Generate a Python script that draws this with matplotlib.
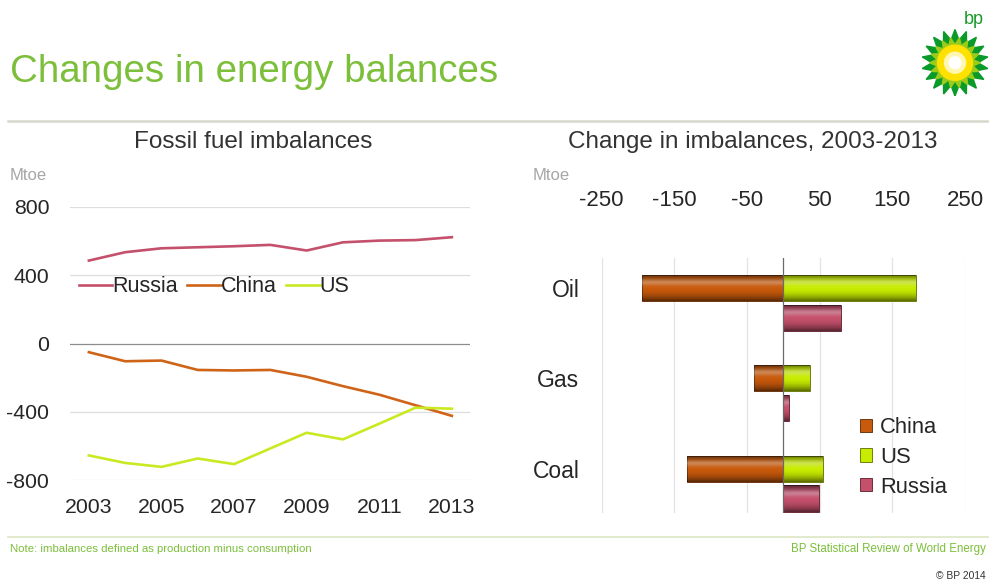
import numpy as np
import matplotlib.pyplot as plt
from matplotlib.patches import Polygon, Circle
from matplotlib.lines import Line2D

plt.rcParams['font.family'] = ['Liberation Sans', 'DejaVu Sans']

# Fossil fuel imbalances (production minus consumption), Mtoe
years = np.arange(2003, 2014)
russia = [486, 535, 558, 564, 570, 578, 545, 593, 603, 606, 623]
china = [-51, -104, -100, -155, -158, -155, -195, -250, -300, -362, -424]
us = [-656, -700, -723, -674, -707, -615, -523, -562, -470, -376, -382]

# Change in imbalances 2003-2013, Mtoe
fuels = ['Oil', 'Gas', 'Coal']
chg_china = [-195, -40, -133]
chg_us = [183, 37, 54]
chg_russia = [79, 8, 49]

c_russia = '#c4506c'
c_china = '#cf6418'
c_us = '#cbe922'
bar_china = '#c85a0c'
bar_us = '#c8ec00'
bar_russia = '#c4506c'
green = '#7cbf3a'
grey_txt = '#a6a6a6'
dark_txt = '#262626'

W, H = 989, 585
fig = plt.figure(figsize=(W / 100, H / 100), dpi=100)


def fx(x):
    return x / W


def fy(y):
    return 1 - y / H


def box(x0, y0, x1, y1):
    return [fx(x0), fy(y1), fx(x1) - fx(x0), fy(y0) - fy(y1)]


# header / footer
fig.text(fx(10), fy(72), 'Changes in energy balances', color=green, fontsize=27.7,
         va='center', ha='left')
fig.add_artist(Line2D([fx(8), fx(989)], [fy(121), fy(121)], color='#d5d9cc', lw=1.8))
fig.add_artist(Line2D([fx(8), fx(989)], [fy(537), fy(537)], color='#dbe6c4', lw=1.2))
fig.text(fx(10), fy(549), 'Note: imbalances defined as production minus consumption',
         color=green, fontsize=8.2, va='center')
fig.text(fx(986), fy(549), 'BP Statistical Review of World Energy', color=green, fontsize=8.3,
         va='center', ha='right')
fig.text(fx(986), fy(576), '\u00a9 BP 2014', color='#333333', fontsize=7.4, va='center', ha='right')

# bp helios mark
lax = fig.add_axes(box(920, 12, 990, 96))
lax.set_xlim(-1, 1)
lax.set_ylim(-1.2, 1.2)
lax.set_aspect('equal')
lax.axis('off')
n = 18
ang = np.linspace(0, 2 * np.pi, 2 * n, endpoint=False) + np.pi / 2
rad = np.where(np.arange(2 * n) % 2 == 0, 0.95, 0.66)
lax.add_patch(Polygon(np.c_[rad * np.cos(ang), rad * np.sin(ang) - 0.25], color='#0a9a2a'))
rad2 = np.where(np.arange(2 * n) % 2 == 0, 0.72, 0.52)
lax.add_patch(Polygon(np.c_[rad2 * np.cos(ang + np.pi / n), rad2 * np.sin(ang + np.pi / n) - 0.25],
                      color='#9ccc1a'))
lax.add_patch(Circle((0, -0.25), 0.5, color='#ffe100'))
lax.add_patch(Circle((0, -0.25), 0.3, color='#fff6b0'))
lax.add_patch(Circle((0, -0.25), 0.17, color='white'))
fig.text(fx(974), fy(19), 'bp', color='#1a9a2a', fontsize=13, ha='center', va='center')

# left panel: line chart
ax1 = fig.add_axes(box(70, 207, 470, 480))
ax1.plot(years, russia, color=c_russia, lw=1.9, label='Russia')
ax1.plot(years, china, color=c_china, lw=1.9, label='China')
ax1.plot(years, us, color=c_us, lw=1.9, label='US')
ax1.set_xlim(2002.48, 2013.5)
ax1.set_ylim(-800, 800)
ax1.set_yticks([-800, -400, 0, 400, 800])
ax1.set_yticklabels(['-800', '-400', '0', '400', '800'])
ax1.set_xticks([2003, 2005, 2007, 2009, 2011, 2013])
for v in [-800, -400, 400, 800]:
    ax1.axhline(v, color='#dedede', lw=0.9, zorder=0)
ax1.axhline(0, color='#8c8c8c', lw=0.9, zorder=0)
for s in ax1.spines.values():
    s.set_visible(False)
ax1.tick_params(length=0, labelsize=15.3, colors=dark_txt)
ax1.tick_params(axis='y', pad=15)
ax1.tick_params(axis='x', pad=13)
ax1.legend(loc='center left', bbox_to_anchor=(0.0, 0.707), ncol=3, frameon=False,
           fontsize=15.5, handlelength=1.55, handletextpad=0.0, columnspacing=0.45,
           borderaxespad=0, labelcolor=dark_txt)
fig.text(fx(253), fy(142), 'Fossil fuel imbalances', fontsize=17.5, ha='center', va='center',
         color='#333333')
fig.text(fx(10), fy(175), 'Mtoe', fontsize=12, color=grey_txt, va='center')

# right panel: horizontal bars
ax2 = fig.add_axes(box(601.7, 258, 965, 513))
pos = np.arange(len(fuels))
bh = 0.29
bars = []
bars += list(ax2.barh(pos, chg_china, height=bh, color=bar_china, edgecolor='#5a2500',
                      lw=0.6, label='China'))
bars += list(ax2.barh(pos, chg_us, height=bh, color=bar_us, edgecolor='#5e6b00',
                      lw=0.6, label='US'))
bars += list(ax2.barh(pos + 0.33, chg_russia, height=bh, color=bar_russia, edgecolor='#5a1a28',
                      lw=0.6, label='Russia'))

# cylinder-like shading on each bar
shade = np.abs(np.linspace(-1, 1, 64)) ** 2
shade_img = np.zeros((64, 1, 4))
shade_img[:, 0, 3] = 0.55 * shade
hl = np.zeros((64, 1, 4))
hl[:, 0, :3] = 1
hl[:, 0, 3] = 0.3 * np.exp(-((np.linspace(0, 1, 64) - 0.3) / 0.12) ** 2)
for b in bars:
    x0, y0 = b.get_x(), b.get_y()
    w, h = b.get_width(), b.get_height()
    for img in (shade_img, hl):
        im = ax2.imshow(img, extent=[x0, x0 + w, y0 + h, y0], aspect='auto',
                        interpolation='bilinear', zorder=3)
        im.set_clip_path(b)

ax2.set_xlim(-250, 250)
ax2.set_ylim(2.49, -0.33)
ticks = [-250, -150, -50, 50, 150, 250]
ax2.set_xticks(ticks)
ax2.set_xticklabels([str(t) for t in ticks])
for v in ticks:
    ax2.axvline(v, color='#e2e2e2', lw=0.9, zorder=0)
ax2.axvline(0, color='#6a6a6a', lw=0.9, zorder=4)
ax2.xaxis.tick_top()
ax2.set_yticks(pos)
ax2.set_yticklabels(fuels)
for s in ax2.spines.values():
    s.set_visible(False)
ax2.tick_params(length=0, colors=dark_txt)
ax2.tick_params(axis='x', pad=34, labelsize=16)
ax2.tick_params(axis='y', pad=16, labelsize=16.5)
ax2.legend(loc='upper left', bbox_to_anchor=(fx(860), fy(417)), bbox_transform=fig.transFigure,
           frameon=False, fontsize=15.8, handlelength=0.55, handleheight=0.55, handletextpad=0.35,
           labelspacing=0.4, borderaxespad=0, borderpad=0, labelcolor=dark_txt)
fig.text(fx(753), fy(142), 'Change in imbalances, 2003-2013', fontsize=17.5, ha='center',
         va='center', color='#333333')
fig.text(fx(533), fy(175), 'Mtoe', fontsize=12, color=grey_txt, va='center')

fig.savefig('out.png', dpi=100)
